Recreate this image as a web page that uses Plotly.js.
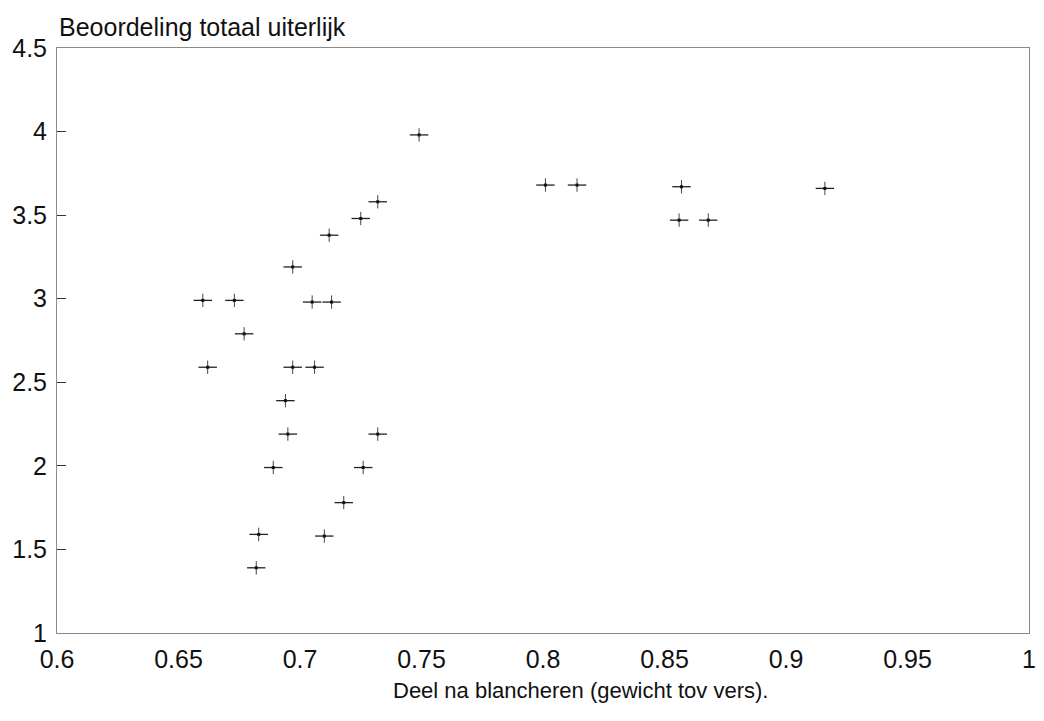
<!DOCTYPE html>
<html>
<head>
<meta charset="utf-8">
<script src="https://cdn.plot.ly/plotly-3.0.1.min.js"></script>
<style>html,body{margin:0;padding:0;background:#fff;}#chart{width:1044px;height:721px;}</style>
</head>
<body>
<div id="chart"></div>
<script>
// Deel na blancheren (gewicht tov vers)
const deelNaBlancheren = [
  0.749, 0.732, 0.725, 0.712, 0.697,
  0.660, 0.673, 0.705, 0.713, 0.677,
  0.662, 0.697, 0.706, 0.694, 0.695,
  0.732, 0.689, 0.726, 0.718, 0.683,
  0.710, 0.682, 0.801, 0.814, 0.857,
  0.916, 0.856, 0.868
];
// Beoordeling totaal uiterlijk
const beoordeling = [
  3.98, 3.58, 3.48, 3.38, 3.19,
  2.99, 2.99, 2.98, 2.98, 2.79,
  2.59, 2.59, 2.59, 2.39, 2.19,
  2.19, 1.99, 1.99, 1.78, 1.59,
  1.58, 1.39, 3.68, 3.68, 3.67,
  3.66, 3.47, 3.47
];
const xTickVals = [0.6, 0.65, 0.7, 0.75, 0.8, 0.85, 0.9, 0.95, 1];
const xTickText = ["0.6", "0.65", "0.7", "0.75", "0.8", "0.85", "0.9", "0.95", "1"];
const yTickVals = [1, 1.5, 2, 2.5, 3, 3.5, 4, 4.5];
const yTickText = ["1", "1.5", "2", "2.5", "3", "3.5", "4", "4.5"];

const font = "Liberation Sans, Arial, Helvetica, sans-serif";

const trace = {
  type: "scatter",
  mode: "markers",
  x: deelNaBlancheren,
  y: beoordeling,
  marker: {symbol: "square", size: 3, color: "#111"},
  error_x: {type: "constant", value: 0.0038, width: 0, thickness: 1.3, color: "#222"},
  error_y: {type: "constant", value: 0.04, width: 0, thickness: 1, color: "#444"},
  hoverinfo: "x+y"
};

const layout = {
  width: 1044,
  height: 721,
  paper_bgcolor: "#ffffff",
  plot_bgcolor: "#ffffff",
  showlegend: false,
  margin: {l: 57, r: 15, t: 48, b: 88},
  font: {family: font, color: "#111", size: 24},
  title: {
    text: "Beoordeling totaal uiterlijk",
    x: 59 / 1044,
    xanchor: "left",
    xref: "container",
    y: 1 - 27 / 721,
    yanchor: "middle",
    yref: "container",
    font: {family: font, size: 25, color: "#111"}
  },
  annotations: [{
    text: "Deel na blancheren (gewicht tov vers).",
    xref: "paper", yref: "paper",
    x: (580 - 57) / 972, y: -(690 - 633) / 585,
    xanchor: "center", yanchor: "middle",
    showarrow: false,
    font: {family: font, size: 22, color: "#111"}
  }],
  xaxis: {
    range: [0.6, 1],
    tickmode: "array",
    tickvals: xTickVals,
    ticktext: xTickText,
    ticks: "inside",
    ticklen: 0,
    ticklabelstandoff: 4,
    showgrid: false,
    zeroline: false,
    showline: true,
    mirror: true,
    linecolor: "#8a8a8a",
    linewidth: 1,
    tickfont: {family: font, size: 25, color: "#111"}
  },
  yaxis: {
    range: [1, 4.5],
    tickmode: "array",
    tickvals: yTickVals,
    ticktext: yTickText,
    ticks: "inside",
    ticklen: 9,
    tickcolor: "#333",
    tickwidth: 1,
    ticklabelstandoff: 4,
    showgrid: false,
    zeroline: false,
    showline: true,
    mirror: true,
    linecolor: "#8a8a8a",
    linewidth: 1,
    tickfont: {family: font, size: 25, color: "#111"}
  }
};

Plotly.newPlot("chart", [trace], layout, {displayModeBar: false, staticPlot: true});
</script>
</body>
</html>
